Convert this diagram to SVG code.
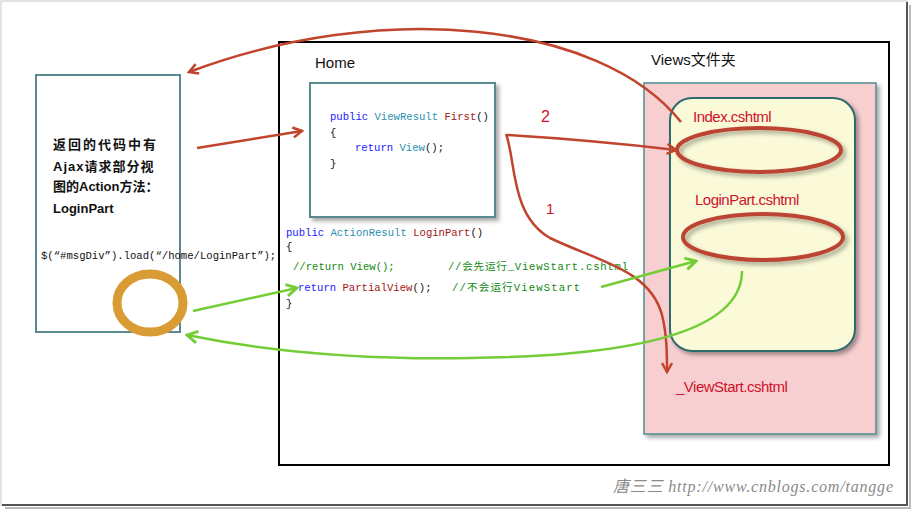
<svg xmlns="http://www.w3.org/2000/svg" width="914" height="512" viewBox="0 0 914 512">
<defs>
<filter id="sh" x="-10%" y="-10%" width="130%" height="130%"><feDropShadow dx="3" dy="3" stdDeviation="2" flood-color="#000" flood-opacity="0.35"/></filter>
<marker id="ar" viewBox="0 0 12 12" refX="10" refY="6" markerWidth="12" markerHeight="12" markerUnits="userSpaceOnUse" orient="auto"><path d="M1,1 L10,6 L1,11" fill="none" stroke="#c0442e" stroke-width="2.5"/></marker>
<marker id="ag" viewBox="0 0 12 12" refX="10" refY="6" markerWidth="14" markerHeight="14" markerUnits="userSpaceOnUse" orient="auto"><path d="M1,1 L10,6 L1,11" fill="none" stroke="#74cc36" stroke-width="2.5"/></marker>
</defs>
<style>
.box{fill:#fff;stroke:#5a8a8e;stroke-width:2}
.t{font-family:"Liberation Sans","Noto Sans CJK SC",sans-serif}
.cn{font-family:"Liberation Sans","Noto Sans CJK SC",sans-serif;font-size:13px;font-weight:bold;fill:#111}
.code{font-family:"Liberation Mono","Noto Sans CJK SC",monospace;font-size:10.6px}
.kw{fill:#1a1aff}.ty{fill:#2b91af}.nm{fill:#a31515}.pl{fill:#111}.cm{fill:#118811}
.red{font-family:"Liberation Sans",sans-serif;font-size:15px;fill:#d0112a;letter-spacing:-0.5px}
.rl{fill:none;stroke:#c0442e;stroke-width:2.5}
.gl{fill:none;stroke:#74cc36;stroke-width:2.5}
.ell{fill:none;stroke:#bb4430;stroke-width:4}
</style>
<rect x="0" y="0" width="914" height="512" fill="#fff"/>
<rect x="1" y="1" width="906" height="504" fill="#fff" stroke="#c8c8c8" stroke-width="1"/>
<path d="M907,2 V505 H2" fill="none" stroke="#555" stroke-width="2"/>
<path d="M910,5 V508 H5" fill="none" stroke="#bbb" stroke-width="2"/>

<g id="leftbox">
<rect class="box" x="36" y="75" width="144" height="257"/>
<text class="cn" x="53" y="149" letter-spacing="2">返回的代码中有</text>
<text class="cn" x="53" y="171" letter-spacing="1">Ajax请求部分视</text>
<text class="cn" x="53" y="191">图的Action方法：</text>
<text class="cn" x="53" y="213">LoginPart</text>
<text class="code pl" x="41" y="259">$(“#msgDiv”).load(“/home/LoginPart”);</text>
</g>
<g id="ring"><ellipse cx="150" cy="303" rx="33" ry="29" fill="none" stroke="#d99b33" stroke-width="9"/></g>

<g id="frame"><rect x="279" y="42" width="610" height="423" fill="none" stroke="#000" stroke-width="2"/></g>
<text class="t" x="315" y="68" font-size="15" fill="#111">Home</text>
<text class="t" x="651" y="65" font-size="15" fill="#111">Views文件夹</text>

<g id="first">
<rect class="box" x="310" y="83" width="185" height="134" filter="url(#sh)"/>
<text class="code" x="330" y="120"><tspan class="kw">public</tspan> <tspan class="ty">ViewResult</tspan> <tspan class="nm">First</tspan><tspan class="pl">()</tspan></text>
<text class="code pl" x="330" y="136">{</text>
<text class="code" x="355" y="151"><tspan class="kw">return</tspan> <tspan class="ty">View</tspan><tspan class="pl">();</tspan></text>
<text class="code pl" x="330" y="167">}</text>
</g>

<g id="loginpart">
<text class="code" x="286" y="236"><tspan class="kw">public</tspan> <tspan class="ty">ActionResult</tspan> <tspan class="nm">LoginPart</tspan><tspan class="pl">()</tspan></text>
<text class="code pl" x="286" y="250">{</text>
<text class="code cm" x="293" y="270">//return View();</text>
<text class="code cm" x="448" y="270" textLength="180" lengthAdjust="spacing">//会先运行_ViewStart.cshtml</text>
<text class="code" x="298" y="291"><tspan class="kw">return</tspan> <tspan class="nm">PartialView</tspan><tspan class="pl">();</tspan></text>
<text class="code cm" x="452" y="291" textLength="128" lengthAdjust="spacing">//不会运行ViewStart</text>
<text class="code pl" x="286" y="307">}</text>
</g>

<g id="views">
<rect x="644" y="83" width="232" height="351" fill="#f8cfd1" stroke="#4f8e8e" stroke-width="1.5" filter="url(#sh)"/>
<rect x="670" y="98" width="185" height="253" rx="22" fill="#fafad9" stroke="#2e6a6c" stroke-width="2" filter="url(#sh)"/>
<text class="red" x="693" y="122">Index.cshtml</text>
<ellipse class="ell" cx="759" cy="150" rx="82" ry="22" filter="url(#sh)"/>
<text class="red" x="695" y="205">LoginPart.cshtml</text>
<ellipse class="ell" cx="763" cy="237" rx="80" ry="23" filter="url(#sh)"/>
<text class="red" x="676" y="392">_ViewStart.cshtml</text>
</g>

<text x="541" y="122" font-family="Liberation Sans,sans-serif" font-size="16" fill="#d0112a">2</text>
<text x="546" y="214" font-family="Liberation Sans,sans-serif" font-size="15" fill="#d0112a">1</text>

<g id="connectors">
<path class="rl" d="M197,148 L302,131" marker-end="url(#ar)"/>
<path class="rl" d="M507,135 Q590,140 676,150" marker-end="url(#ar)"/>
<path class="rl" d="M506,134 C516,160 510,215 550,238 C600,262 650,270 662,315 C667,335 667,355 667,372" marker-end="url(#ar)"/>
<path class="rl" d="M681,122 C600,20 380,0 189,72" marker-end="url(#ar)"/>
<path class="gl" d="M193,311 L297,288" marker-end="url(#ag)"/>
<path class="gl" d="M601,287 L696,261" marker-end="url(#ag)"/>
<path class="gl" d="M742,271 C742,330 640,356 470,358 C350,360 260,350 187,335" marker-end="url(#ag)"/>
</g>

<text x="613" y="492" font-family="Liberation Serif,Noto Sans CJK SC,serif" font-style="italic" font-size="16" fill="#8a8a8a" textLength="280" lengthAdjust="spacing">唐三三 http://www.cnblogs.com/tangge</text>
</svg>
